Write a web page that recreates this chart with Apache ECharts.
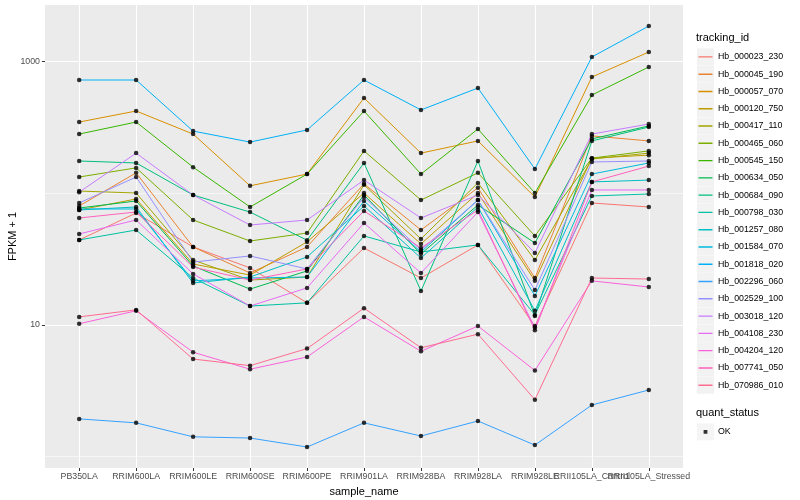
<!DOCTYPE html>
<html>
<head>
<meta charset="utf-8">
<script src="https://cdn.jsdelivr.net/npm/echarts@6/dist/echarts.min.js"></script>
<style>
html,body{margin:0;padding:0;background:#ffffff;}
#chart{width:800px;height:500px;}
</style>
</head>
<body>
<div id="chart"></div>
<script>
// ---------- data (values are FPKM + 1) ----------
const categories = ['PB350LA','RRIM600LA','RRIM600LE','RRIM600SE','RRIM600PE','RRIM901LA','RRIM928BA','RRIM928LA','RRIM928LE','RRII105LA_Control','RRII105LA_Stressed'];

const Hb_000023_230 = [44.2, 70.8, 39.1, 27.1, 14.7, 38.4, 22.7, 40.5, 9.8, 84.4, 78.7];
const Hb_000045_190 = [80.1, 143, 39.1, 24.8, 39.1, 118, 52.6, 110, 22.7, 273, 250];
const Hb_000057_070 = [348, 422, 282, 114, 140, 530, 202, 250, 93.7, 765, 1185];
const Hb_000120_750 = [74.7, 90.5, 29, 23.9, 42.7, 100.5, 41.2, 100.5, 21.6, 185, 195];
const Hb_000417_110 = [104, 100.5, 31.1, 21.9, 23.1, 116, 45, 120, 31.1, 182, 202];
const Hb_000465_060 = [133, 156, 62.7, 43.4, 49.9, 210, 88.9, 143, 47.4, 185, 210];
const Hb_000545_150 = [282, 348, 158, 78.7, 140, 422, 140, 308, 100.5, 558, 912];
const Hb_000634_050 = [77.3, 87.4, 28, 18.7, 25.7, 97.1, 34.6, 81.5, 41.9, 259, 325];
const Hb_000684_090 = [176, 170, 97, 72, 44, 170, 18.1, 176, 11.7, 250, 319];
const Hb_000798_030 = [44.2, 52.6, 22.7, 13.9, 14.7, 47.4, 35.8, 40.5, 11.9, 95.4, 98.8];
const Hb_001257_080 = [74.7, 78.7, 20.8, 23.1, 32.8, 80.1, 32.2, 78.7, 12.8, 122, 126];
const Hb_001584_070 = [76, 76, 21.6, 22.7, 23.1, 87.4, 35.8, 88.9, 16.6, 140, 170];
const Hb_001818_020 = [726, 726, 297, 245, 303, 726, 430, 631, 153, 1086, 1867];
const Hb_002296_060 = [1.93, 1.80, 1.41, 1.38, 1.18, 1.80, 1.43, 1.86, 1.22, 2.46, 3.2];
const Hb_002529_100 = [84.4, 133, 30, 33.4, 26.6, 93.7, 37.1, 88.9, 18.4, 173, 176];
const Hb_003018_120 = [102, 202, 97, 57.4, 62.7, 126, 64.9, 97, 35.2, 282, 336];
const Hb_004108_230 = [49.1, 62.7, 24.4, 13.9, 19.1, 59.5, 24.8, 72.1, 9.5, 106, 106];
const Hb_004204_120 = [10.2, 12.8, 6.2, 4.6, 5.7, 11.5, 6.3, 9.8, 4.5, 21.6, 19.4];
const Hb_007741_050 = [64.9, 72.1, 27.5, 21.9, 26.6, 73.4, 38.4, 74.7, 9.1, 122, 161];
const Hb_070986_010 = [11.5, 13.0, 5.5, 4.9, 6.6, 13.4, 6.7, 8.5, 2.7, 22.7, 22.3];

const trackingIds = ['Hb_000023_230','Hb_000045_190','Hb_000057_070','Hb_000120_750','Hb_000417_110','Hb_000465_060','Hb_000545_150','Hb_000634_050','Hb_000684_090','Hb_000798_030','Hb_001257_080','Hb_001584_070','Hb_001818_020','Hb_002296_060','Hb_002529_100','Hb_003018_120','Hb_004108_230','Hb_004204_120','Hb_007741_050','Hb_070986_010'];
const seriesValues = [Hb_000023_230,Hb_000045_190,Hb_000057_070,Hb_000120_750,Hb_000417_110,Hb_000465_060,Hb_000545_150,Hb_000634_050,Hb_000684_090,Hb_000798_030,Hb_001257_080,Hb_001584_070,Hb_001818_020,Hb_002296_060,Hb_002529_100,Hb_003018_120,Hb_004108_230,Hb_004204_120,Hb_007741_050,Hb_070986_010];
const quantStatus = ['OK'];

const yGridValues = [1, 10, 100, 1000];
const yTickLabels = [10, 1000];

// ---------- styles ----------
const palette = ['#F8766D','#EA8331','#D89000','#C09B00','#A3A500','#7CAE00','#39B600','#00BB4E','#00BF7D','#00C1A3','#00BFC4','#00BAE0','#00B0F6','#35A2FF','#9590FF','#C77CFF','#E76BF3','#FA62DB','#FF62BC','#FF6C91'];
const FONT = '"Liberation Sans", Arial, Helvetica, sans-serif';
const Y_MIN = 0.817, Y_MAX = 2698;
const xIdx = categories.map((c, i) => i);
// labels are split over three axes so that ECharts' min/max overlap check never hides one
const xLabelGroups = [xIdx.slice(0, 9), [9], [10]];

const lineIcon = 'path://M0,0h0.01v0.01h-0.01z M1.5,7.8h14v1.4h-14z M16.99,16.99h0.01v0.01h-0.01z';
const dotIcon = 'path://M0,0h0.01v0.01h-0.01z M6.6,6.6h3.8v3.8h-3.8z M16.99,16.99h0.01v0.01h-0.01z';

const lineSeries = trackingIds.map((name, k) => ({
  name: name,
  type: 'line',
  xAxisIndex: 0,
  yAxisIndex: 0,
  data: seriesValues[k].map((v, i) => [i, v]),
  showSymbol: false,
  symbol: 'none',
  lineStyle: { width: 1, color: palette[k] },
  itemStyle: { color: palette[k] },
  emphasis: { disabled: true },
  silent: true,
  z: 2
}));

const pointSeries = {
  name: quantStatus[0],
  type: 'scatter',
  xAxisIndex: 0,
  yAxisIndex: 0,
  data: seriesValues.flatMap(arr => arr.map((v, i) => [i, v])),
  symbol: 'circle',
  symbolSize: 4.5,
  itemStyle: { color: '#000000' },
  emphasis: { disabled: true },
  silent: true,
  z: 3
};

const legendTop = 48.4;
const legendStep = 17.28;
const boxLegendCommon = {
  orient: 'vertical', left: 697, padding: 0, itemGap: legendStep - 17,
  itemWidth: 17, itemHeight: 17, icon: 'rect',
  itemStyle: { color: '#F2F2F2', borderWidth: 0 },
  formatter: () => '', selectedMode: false, z: 4
};
const textLegendCommon = {
  orient: 'vertical', left: 697, padding: 0, itemGap: legendStep - 17,
  itemWidth: 17, itemHeight: 17,
  textStyle: { fontFamily: FONT, fontSize: 8.8, color: '#000000', padding: [0, 0, 0, -1] },
  selectedMode: false, z: 6
};

const xLabelStyle = { fontFamily: FONT, fontSize: 8.8, color: '#4D4D4D', margin: 4.5, hideOverlap: false };

const xAxes = xLabelGroups.map((vals, g) => ({
  type: 'value', min: -0.6, max: 10.6, position: 'bottom', offset: 0,
  axisLine: { show: false, onZero: false },
  axisTick: g === 0
    ? { show: true, customValues: xIdx, length: 3, lineStyle: { color: '#333333', width: 1 } }
    : { show: false, customValues: vals },
  axisLabel: Object.assign({ customValues: vals, formatter: v => categories[Math.round(v)] }, xLabelStyle),
  splitLine: g === 0 ? { show: true, lineStyle: { color: '#ffffff', width: 1.1 } } : { show: false },
  name: g === 0 ? 'sample_name' : '',
  nameLocation: 'middle', nameGap: 16,
  nameTextStyle: { fontFamily: FONT, fontSize: 11, color: '#000000' }
}));

const option = {
  animation: false,
  backgroundColor: '#ffffff',
  textStyle: { fontFamily: FONT },
  title: [
    { text: 'tracking_id', left: 696, top: 32.5, padding: 0, textStyle: { fontFamily: FONT, fontSize: 11, fontWeight: 'normal', color: '#000000' } },
    { text: 'quant_status', left: 696, top: 407.5, padding: 0, textStyle: { fontFamily: FONT, fontSize: 11, fontWeight: 'normal', color: '#000000' } }
  ],
  grid: { left: 45, top: 5, width: 638, height: 463, show: true, backgroundColor: '#EBEBEB', borderWidth: 0, containLabel: false, outerBoundsMode: 'none' },
  legend: [
    Object.assign({}, boxLegendCommon, { top: legendTop, data: trackingIds }),
    Object.assign({}, textLegendCommon, { top: legendTop, data: trackingIds, icon: lineIcon }),
    Object.assign({}, boxLegendCommon, { top: 423.4, data: quantStatus }),
    Object.assign({}, textLegendCommon, { top: 423.4, data: quantStatus, icon: dotIcon })
  ],
  xAxis: xAxes,
  yAxis: [
    {
      type: 'log', logBase: 10, min: Y_MIN, max: Y_MAX, position: 'left', offset: 0,
      axisLine: { show: false, onZero: false },
      axisTick: { show: false, customValues: yGridValues },
      axisLabel: { show: false, customValues: yGridValues },
      splitLine: { show: true, lineStyle: { color: '#ffffff', width: 0.55 } },
      name: 'FPKM + 1', nameLocation: 'middle', nameGap: 27, nameRotate: 90,
      nameTextStyle: { fontFamily: FONT, fontSize: 11, color: '#000000' }
    },
    {
      type: 'log', logBase: 10, min: Y_MIN, max: Y_MAX, position: 'left', offset: 0,
      axisLine: { show: false, onZero: false },
      axisTick: { show: true, customValues: yTickLabels, length: 3, lineStyle: { color: '#333333', width: 1 } },
      axisLabel: { customValues: yTickLabels, formatter: v => String(Math.round(v)), fontFamily: FONT, fontSize: 8.8, color: '#4D4D4D', margin: 5 },
      splitLine: { show: true, lineStyle: { color: '#ffffff', width: 1.1 } }
    }
  ],
  series: lineSeries.concat([pointSeries])
};

const chart = echarts.init(document.getElementById('chart'), null, { renderer: 'canvas' });
chart.setOption(option);
</script>
</body>
</html>
